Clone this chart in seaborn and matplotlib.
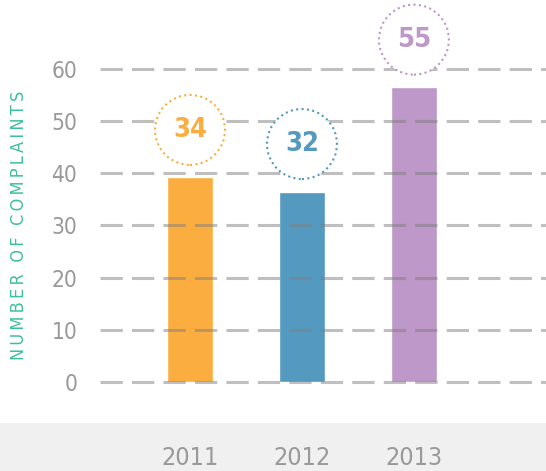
import matplotlib
matplotlib.use("Agg")
import matplotlib.pyplot as plt
import seaborn as sns
from matplotlib.patches import Ellipse, Rectangle

# Data
years = ['2011', '2012', '2013']
bar_heights = [39.2, 36.5, 56.5]
circle_labels = ['34', '32', '55']
colors = ['#fbae3f', '#5499bf', '#bd98c8']
yticks = [0, 10, 20, 30, 40, 50, 60]

W, H = 546, 471
sns.set_theme(style='white')
plt.rcParams['font.family'] = ['DejaVu Sans']
plt.rcParams['font.stretch'] = 'condensed'

fig = plt.figure(figsize=(W / 100, H / 100), dpi=100)

# grey band at the bottom
fig.patches.append(Rectangle((0, 0), 1, 48 / H, transform=fig.transFigure,
                             facecolor='#f0f0f0', edgecolor='none', zorder=-5))

ax = fig.add_axes([100 / W, 71 / H, 446 / W, 400 / H])
ax.patch.set_alpha(0)

sns.barplot(x=years, y=bar_heights, hue=years, palette=colors, saturation=1,
            width=0.41, legend=False, ax=ax, zorder=1)

ax.set_xlim(-0.804, 3.18)
ax.set_ylim(-3.45, 73.2)
ax.set_yticks(yticks)
ax.set_yticklabels([str(v) for v in yticks])
ax.tick_params(axis='y', length=0, pad=16.5, labelsize=16.3, labelcolor='#999999')
ax.tick_params(axis='x', length=0, pad=33, labelsize=18, labelcolor='#999999')
ax.set_xlabel('')
ax.set_ylabel('')
for s in ax.spines.values():
    s.set_visible(False)

# dashed grid over the bars
for v in yticks:
    ax.axhline(v, color='#808080', alpha=0.5, lw=2.2,
               linestyle=(0, (7.3, 3)), zorder=2)

# dotted circles with the labels
px_x = 112.0
px_y = 5.217
for i, (h, lab, c) in enumerate(zip(bar_heights, circle_labels, colors)):
    cy = h + 9.1
    e = Ellipse((i, cy), 70 / px_x, 70 / px_y, facecolor='white', edgecolor=c,
                linestyle=(0, (1, 1.6)), lw=1.5, zorder=3)
    ax.add_patch(e)
    ax.text(i, cy, lab, ha='center', va='center', fontsize=19.5,
            fontweight='bold', color=c, zorder=4)

# letter-spaced axis title
ylabel = '\u2009 \u2009'.join('\u2009'.join(w) for w in 'NUMBER OF COMPLAINTS'.split())
fig.text(19 / W, 1 - 225 / H, ylabel, rotation=90, ha='center', va='center',
         fontsize=13, color='#3dbf9f')

fig.savefig('out.png', dpi=100)
